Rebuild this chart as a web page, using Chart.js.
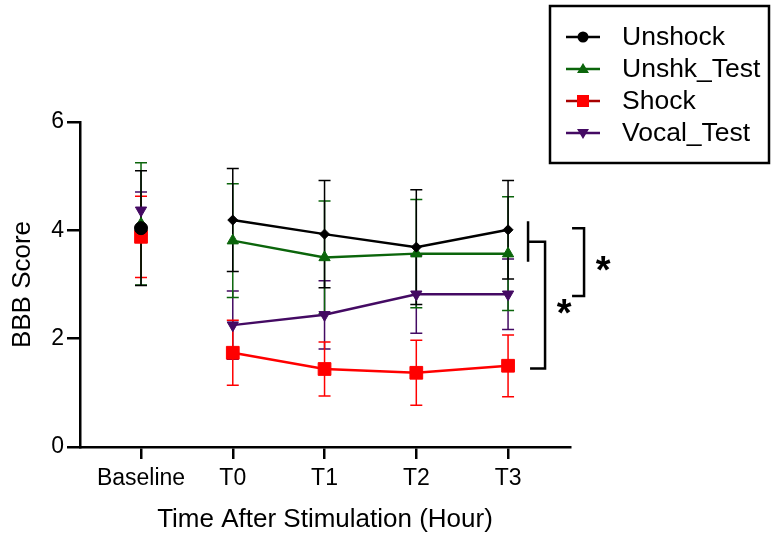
<!DOCTYPE html>
<html>
<head>
<meta charset="utf-8">
<script src="https://cdn.jsdelivr.net/npm/chart.js@4"></script>
<style>
  body { margin: 0; background: #fff; }
  #wrap { width: 772px; height: 535px; }
</style>
</head>
<body>
<div id="wrap"><canvas id="bbbChart" width="772" height="535"></canvas></div>
<script>
// カテゴリ（横軸）
const categories = ['Baseline', 'T0', 'T1', 'T2', 'T3'];
const yTicks = [0, 2, 4, 6];

// 平均値とSD
const unshockMean   = [4.04, 4.19, 3.93, 3.69, 4.01];
const unshockSD     = [1.06, 0.95, 0.99, 1.06, 0.91];
const unshkTestMean = [4.12, 3.81, 3.50, 3.57, 3.57];
const unshkTestSD   = [1.13, 1.05, 1.04, 1.00, 1.05];
const shockMean     = [3.88, 1.74, 1.44, 1.37, 1.50];
const shockSD       = [0.75, 0.60, 0.50, 0.60, 0.57];
const vocalMean     = [4.37, 2.25, 2.44, 2.82, 2.82];
const vocalSD       = [0.34, 0.63, 0.63, 0.72, 0.65];

const FONT = 'Liberation Sans, Arial, sans-serif';

function toPoints(arr) {
    return arr.map((y, i) => ({ x: i, y: y }));
}

// Baselineとの間は線を引かない
function makeSet(label, mean, sd, color, style, radius, rotation, legendLine) {
    return {
        label: label,
        data: toPoints(mean),
        sd: sd,
        legendLine: legendLine || color,
        borderColor: color,
        backgroundColor: color,
        borderWidth: 2.5,
        pointStyle: style,
        pointRadius: radius,
        pointRotation: rotation || 0,
        pointBorderWidth: 1,
        segment: {
            borderColor: ctx => ctx.p0DataIndex === 0 ? 'rgba(0,0,0,0)' : color
        }
    };
}

const datasets = [
    makeSet('Unshock', unshockMean, unshockSD, '#000000',
        ['circle', 'rectRot', 'rectRot', 'rectRot', 'rectRot'], [6.5, 5, 5, 5, 5], 0),
    makeSet('Unshk_Test', unshkTestMean, unshkTestSD, '#0b650b', 'triangle', 6.5, 0),
    makeSet('Shock', shockMean, shockSD, '#ff0000', 'rect', 9, 0, '#a80000'),
    makeSet('Vocal_Test', vocalMean, vocalSD, '#440a63', 'triangle', 6.5, 180)
];

// エラーバー描画
const errorBarPlugin = {
    id: 'errorBars',
    beforeDatasetsDraw(chart) {
        const ctx = chart.ctx;
        const xs = chart.scales.x, ys = chart.scales.y;
        ctx.save();
        for (let d = chart.data.datasets.length - 1; d >= 0; d--) {
            const ds = chart.data.datasets[d];
            ctx.strokeStyle = ds.borderColor;
            ctx.lineWidth = 1.5;
            ds.data.forEach((p, i) => {
                const x = xs.getPixelForValue(p.x);
                const top = ys.getPixelForValue(p.y + ds.sd[i]);
                const bot = ys.getPixelForValue(p.y - ds.sd[i]);
                ctx.beginPath();
                ctx.moveTo(x, top); ctx.lineTo(x, bot);
                ctx.moveTo(x - 6, top); ctx.lineTo(x + 6, top);
                ctx.moveTo(x - 6, bot); ctx.lineTo(x + 6, bot);
                ctx.stroke();
            });
        }
        ctx.restore();
    }
};

function drawMarker(ctx, style, x, y, color) {
    ctx.fillStyle = color;
    ctx.beginPath();
    if (style === 'circle') {
        ctx.arc(x, y, 5.5, 0, Math.PI * 2);
    } else if (style === 'triangle') {
        ctx.moveTo(x, y - 6); ctx.lineTo(x + 6, y + 4); ctx.lineTo(x - 6, y + 4);
    } else if (style === 'down') {
        ctx.moveTo(x, y + 6); ctx.lineTo(x + 6, y - 4); ctx.lineTo(x - 6, y - 4);
    } else {
        ctx.rect(x - 6, y - 6, 12, 12);
    }
    ctx.closePath();
    ctx.fill();
}

// 凡例と有意差ブラケット
const extrasPlugin = {
    id: 'extras',
    afterDraw(chart) {
        const ctx = chart.ctx;
        const xs = chart.scales.x, ys = chart.scales.y;
        ctx.save();

        // 凡例の枠
        ctx.strokeStyle = '#000';
        ctx.lineWidth = 2.5;
        ctx.strokeRect(550, 6, 219, 157);
        const legendStyles = ['circle', 'triangle', 'rect', 'down'];
        ctx.font = '26.5px ' + FONT;
        ctx.textBaseline = 'middle';
        ctx.textAlign = 'left';
        chart.data.datasets.forEach((ds, i) => {
            const y = 37 + i * 32;
            ctx.strokeStyle = ds.legendLine;
            ctx.lineWidth = 2.5;
            ctx.beginPath();
            ctx.moveTo(566, y); ctx.lineTo(600, y);
            ctx.stroke();
            drawMarker(ctx, legendStyles[i], 583, y, ds.backgroundColor);
            ctx.fillStyle = '#000';
            ctx.fillText(ds.label, 622, y + 1);
        });

        // ブラケット（T3の値から）
        const last = categories.length - 1;
        const xT3 = xs.getPixelForValue(last);
        ctx.strokeStyle = '#000';
        ctx.lineWidth = 2.5;

        // Unshock/Unshk_Test vs Shock
        const x1 = xT3 + 20;
        const midTop = ys.getPixelForValue((unshockMean[last] + unshkTestMean[last]) / 2);
        const bot1 = ys.getPixelForValue(shockMean[last] - 0.05);
        ctx.beginPath();
        ctx.moveTo(x1, ys.getPixelForValue(unshockMean[last] + 0.16));
        ctx.lineTo(x1, ys.getPixelForValue(unshkTestMean[last] - 0.15));
        ctx.moveTo(x1, midTop);
        ctx.lineTo(x1 + 17, midTop);
        ctx.lineTo(x1 + 17, bot1);
        ctx.lineTo(x1 + 2, bot1);
        ctx.stroke();

        // Unshock vs Vocal_Test
        const x2 = xT3 + 64;
        const t2 = ys.getPixelForValue(unshockMean[last] + 0.03);
        const b2 = ys.getPixelForValue(vocalMean[last] - 0.03);
        ctx.beginPath();
        ctx.moveTo(x2, t2); ctx.lineTo(x2 + 12, t2);
        ctx.lineTo(x2 + 12, b2); ctx.lineTo(x2, b2);
        ctx.stroke();

        // アスタリスク（中心が指定位置に来るように）
        ctx.fillStyle = '#000';
        ctx.font = 'bold 38px ' + FONT;
        ctx.textAlign = 'center';
        ctx.textBaseline = 'alphabetic';
        ctx.fillText('*', x1 + 36, (midTop + bot1) / 2 + 21);
        ctx.fillText('*', x2 + 31, (t2 + b2) / 2 + 21);
        ctx.restore();
    }
};

window.onload = function() {
    const ctx = document.getElementById('bbbChart').getContext('2d');
    new Chart(ctx, {
        type: 'line',
        data: { datasets: datasets },
        options: {
            responsive: false,
            animation: false,
            layout: { padding: { top: 122, right: 202, left: 0, bottom: 0 } },
            plugins: { legend: { display: false }, tooltip: { enabled: false } },
            scales: {
                x: {
                    type: 'linear',
                    min: -0.665,
                    max: 4.675,
                    afterBuildTicks: s => { s.ticks = categories.map((c, i) => ({ value: i })); },
                    afterFit: s => { s.height = 88; },
                    ticks: {
                        callback: v => categories[v],
                        color: '#000',
                        font: { size: 23, family: FONT },
                        padding: 6,
                        maxRotation: 0
                    },
                    grid: { display: true, drawOnChartArea: false, drawTicks: true, tickLength: 12, color: '#000', lineWidth: 2.5 },
                    border: { display: true, color: '#000', width: 2.5 },
                    title: {
                        display: true,
                        text: 'Time After Stimulation (Hour)',
                        color: '#000',
                        font: { size: 26, family: FONT },
                        padding: { top: 0, bottom: 0 }
                    }
                },
                y: {
                    min: 0,
                    max: 6,
                    afterBuildTicks: s => { s.ticks = yTicks.map(v => ({ value: v })); },
                    afterFit: s => { s.width = 80; },
                    ticks: {
                        color: '#000',
                        font: { size: 23, family: FONT },
                        padding: 3
                    },
                    grid: { display: true, drawOnChartArea: false, drawTicks: true, tickLength: 13, color: '#000', lineWidth: 2.5 },
                    border: { display: true, color: '#000', width: 2.5 },
                    title: {
                        display: true,
                        text: 'BBB Score',
                        color: '#000',
                        font: { size: 26, family: FONT },
                        padding: { top: 7, bottom: 0 }
                    }
                }
            }
        },
        plugins: [errorBarPlugin, extrasPlugin]
    });
};
</script>
</body>
</html>
